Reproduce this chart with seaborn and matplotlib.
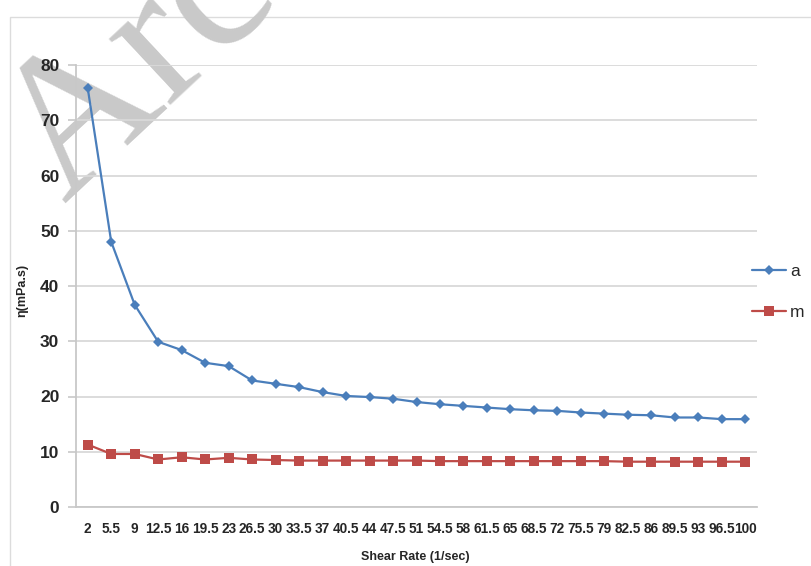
import matplotlib
matplotlib.use("Agg")
import matplotlib.pyplot as plt
from matplotlib.lines import Line2D
from matplotlib.patches import Rectangle
import seaborn as sns
import pandas as pd

# Shear rate categories (1/sec)
shear_rate = [2, 5.5, 9, 12.5, 16, 19.5, 23, 26.5, 30, 33.5, 37, 40.5, 44, 47.5,
              51, 54.5, 58, 61.5, 65, 68.5, 72, 75.5, 79, 82.5, 86, 89.5, 93, 96.5, 100]
shear_labels = ["2", "5.5", "9", "12.5", "16", "19.5", "23", "26.5", "30", "33.5", "37",
                "40.5", "44", "47.5", "51", "54.5", "58", "61.5", "65", "68.5", "72",
                "75.5", "79", "82.5", "86", "89.5", "93", "96.5", "100"]

# Viscosity (mPa.s)
visc_a = [75.8, 48.0, 36.6, 29.9, 28.4, 26.1, 25.5, 22.9, 22.3, 21.7, 20.8, 20.1, 19.9,
          19.6, 19.0, 18.6, 18.3, 18.0, 17.7, 17.5, 17.4, 17.1, 16.9, 16.7, 16.6, 16.2,
          16.2, 15.9, 15.9]
visc_m = [11.3, 9.6, 9.6, 8.6, 9.0, 8.6, 8.9, 8.6, 8.5, 8.4, 8.4, 8.4, 8.4, 8.4, 8.4,
          8.3, 8.3, 8.3, 8.3, 8.3, 8.3, 8.3, 8.3, 8.2, 8.2, 8.2, 8.2, 8.2, 8.2]

series_names = ["a", "m"]
colors = {"a": "#4a7ebb", "m": "#be4b48"}
markers = {"a": "D", "m": "s"}
marker_sizes = {"a": 5.5, "m": 7.0}

pos = list(range(len(shear_rate)))
df = pd.DataFrame({
    "pos": pos * 2,
    "visc": visc_a + visc_m,
    "series": ["a"] * len(pos) + ["m"] * len(pos),
})

sns.set_theme(style="white")
narrow = ["Liberation Sans Narrow", "Liberation Sans", "DejaVu Sans"]
plt.rcParams["font.family"] = narrow

fig = plt.figure(figsize=(8.11, 5.66), dpi=100)
ax = fig.add_axes([76 / 811, 1 - 507 / 566, (757 - 76) / 811, (507 - 65) / 566])
ax.set_facecolor("none")

# light frame around the chart area
fig.patches.append(Rectangle((10 / 811, -0.01), 1.0, 1 - 17 / 566 + 0.01,
                             transform=fig.transFigure, fill=False,
                             edgecolor="#dcdcdc", linewidth=1.0, zorder=-3))

# watermark behind the plot
fig.text(140 / 811, 1 - 68 / 566, "Arc", rotation=43, fontsize=142, color="#c9c9c9",
         family=["Liberation Serif", "DejaVu Serif"],
         ha="center", va="center", zorder=-2)

sns.lineplot(data=df, x="pos", y="visc", hue="series", style="series",
             palette=colors, markers=markers, dashes=False, linewidth=1.6,
             markersize=5.5, markeredgewidth=0, ax=ax, legend=False, zorder=3)
for line in ax.lines:
    if line.get_marker() == "s":
        line.set_markersize(marker_sizes["m"])

ax.set_xlim(-0.5, len(pos) - 0.5)
ax.set_ylim(0, 80)
ax.set_yticks(range(0, 81, 10))
ax.set_xticks(pos)
ax.set_xticklabels(shear_labels)
ax.grid(axis="y", color="#d9d9d9", linewidth=1.3)
ax.set_axisbelow(True)

for side in ("top", "right"):
    ax.spines[side].set_visible(False)
for side in ("left", "bottom"):
    ax.spines[side].set_color("#c8c8c8")
    ax.spines[side].set_linewidth(1.3)

ax.tick_params(axis="y", which="major", length=6, width=1.2, color="#c8c8c8",
               pad=6, labelsize=12.5, labelcolor="#262626", left=True)
ax.tick_params(axis="x", which="major", length=0, pad=11, labelsize=9.8,
               labelcolor="#262626")
for lab in ax.get_yticklabels() + ax.get_xticklabels():
    lab.set_fontweight("bold")

ax.set_xlabel("")
ax.set_ylabel("")
fig.text(415 / 811, 1 - 557 / 566, "Shear Rate (1/sec)", ha="center", va="center",
         fontsize=9, fontweight="bold", color="#262626")
fig.text(22 / 811, 1 - 290 / 566, "η(mPa.s)", ha="center", va="center",
         rotation=90, fontsize=9, fontweight="bold", color="#262626",
         family=narrow)

handles = [Line2D([], [], color=colors[s], marker=markers[s], linewidth=1.6,
                  markersize=marker_sizes[s], markeredgewidth=0)
           for s in series_names]
fig.legend(handles, series_names, loc="center left",
           bbox_to_anchor=(736 / 811, 1 - 292 / 566), frameon=False,
           fontsize=12.5, handlelength=2.0, handletextpad=0.2, labelspacing=1.5,
           labelcolor="#262626")

fig.savefig("out.png", dpi=100)
